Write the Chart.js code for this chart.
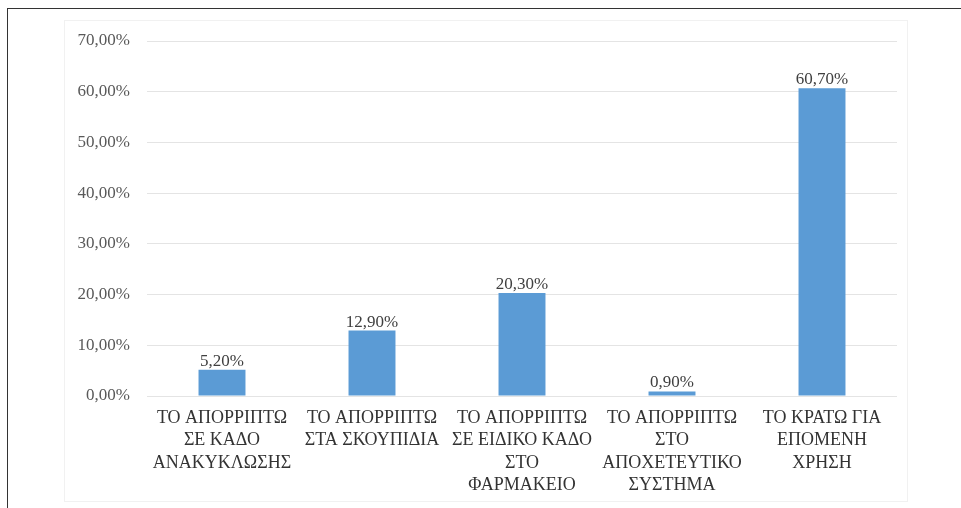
<!DOCTYPE html>
<html>
<head>
<meta charset="utf-8">
<script src="https://cdn.jsdelivr.net/npm/chart.js@4"></script>
<style>
    body { margin: 0; background: #fff; }
    #wrap { position: relative; width: 961px; height: 508px; }
    #frame { position: absolute; left: 7px; top: 8px; right: 0; bottom: 0; border-left: 1px solid #333; border-top: 1px solid #333; }
    #area { position: absolute; left: 64px; top: 20px; width: 842px; height: 480px; border: 1px solid #f1f1f1; }
    canvas { position: absolute; left: 0; top: 0; }
</style>
</head>
<body>
<div id="wrap">
    <div id="frame"></div>
    <div id="area"></div>
    <canvas id="chart" width="961" height="508"></canvas>
</div>
<script>
const categories = [
    ['ΤΟ ΑΠΟΡΡΙΠΤΩ', 'ΣΕ ΚΑΔΟ', 'ΑΝΑΚΥΚΛΩΣΗΣ'],
    ['ΤΟ ΑΠΟΡΡΙΠΤΩ', 'ΣΤΑ ΣΚΟΥΠΙΔΙΑ'],
    ['ΤΟ ΑΠΟΡΡΙΠΤΩ', 'ΣΕ ΕΙΔΙΚΟ ΚΑΔΟ', 'ΣΤΟ', 'ΦΑΡΜΑΚΕΙΟ'],
    ['ΤΟ ΑΠΟΡΡΙΠΤΩ', 'ΣΤΟ', 'ΑΠΟΧΕΤΕΥΤΙΚΟ', 'ΣΥΣΤΗΜΑ'],
    ['ΤΟ ΚΡΑΤΩ ΓΙΑ', 'ΕΠΟΜΕΝΗ', 'ΧΡΗΣΗ']
];
const percentages = [5.2, 12.9, 20.3, 0.9, 60.7];
const yTicks = [0, 10, 20, 30, 40, 50, 60, 70];

const fmt = v => v.toFixed(2).replace('.', ',') + '%';

// draws the value above each bar
const valueLabels = {
    id: 'valueLabels',
    afterDatasetsDraw(chart) {
        const ctx = chart.ctx;
        const meta = chart.getDatasetMeta(0);
        ctx.save();
        ctx.font = '17px "Liberation Serif"';
        ctx.fillStyle = '#404040';
        ctx.textAlign = 'center';
        ctx.textBaseline = 'bottom';
        meta.data.forEach((bar, i) => {
            ctx.fillText(fmt(percentages[i]), bar.x, bar.y);
        });
        ctx.restore();
    }
};

new Chart(document.getElementById('chart'), {
    type: 'bar',
    data: {
        labels: categories,
        datasets: [{
            data: percentages,
            backgroundColor: '#5B9BD5',
            categoryPercentage: 1,
            barPercentage: 0.313
        }]
    },
    options: {
        responsive: false,
        animation: false,
        layout: { padding: { left: 65, right: 64, top: 41, bottom: 0 } },
        plugins: { legend: { display: false }, tooltip: { enabled: false } },
        scales: {
            x: {
                grid: { display: false },
                border: { display: false },
                ticks: {
                    color: '#333333',
                    font: { family: 'Liberation Serif', size: 18, lineHeight: 1.25 },
                    padding: 3,
                    maxRotation: 0,
                    autoSkip: false
                },
                afterFit(scale) { scale.height = 112; }
            },
            y: {
                min: 0,
                max: 70,
                afterBuildTicks(scale) { scale.ticks = yTicks.map(v => ({ value: v })); },
                grid: { color: '#e4e4e4', drawTicks: false },
                border: { display: false },
                ticks: {
                    color: '#595959',
                    font: { family: 'Liberation Serif', size: 17 },
                    padding: 17,
                    callback: v => fmt(v)
                },
                afterFit(scale) { scale.width = 82; }
            }
        }
    },
    plugins: [valueLabels]
});
</script>
</body>
</html>
